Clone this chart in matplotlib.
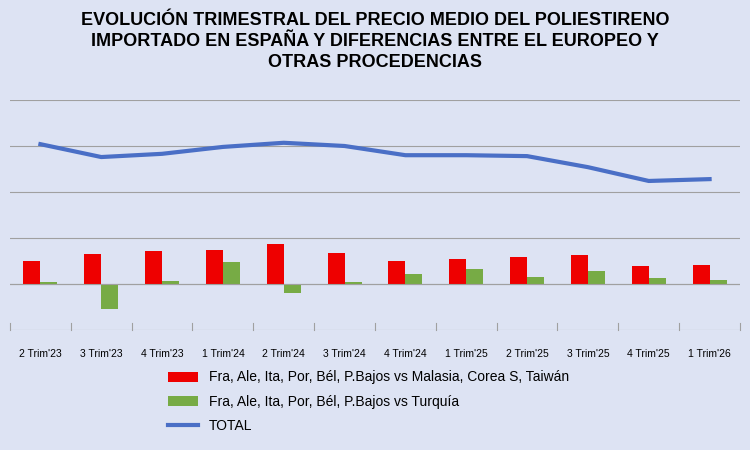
import matplotlib
matplotlib.use("Agg")
import matplotlib.pyplot as plt
import numpy as np

categories = ["2 Trim'23","3 Trim'23","4 Trim'23","1 Trim'24","2 Trim'24","3 Trim'24",
              "4 Trim'24","1 Trim'25","2 Trim'25","3 Trim'25","4 Trim'25","1 Trim'26"]
red_vals = [0.50,0.65,0.72,0.74,0.87,0.67,0.50,0.54,0.59,0.63,0.39,0.41]
green_vals = [0.04,-0.54,0.06,0.48,-0.20,0.04,0.22,0.33,0.15,0.28,0.13,0.09]
total_vals = [3.04,2.76,2.83,2.98,3.07,3.00,2.80,2.80,2.78,2.54,2.24,2.28]

bg = "#dde3f3"
plt.rcParams['font.family'] = ['Liberation Sans', 'DejaVu Sans']
fig = plt.figure(figsize=(7.5,4.5), dpi=100, facecolor=bg)
ax = fig.add_axes([10/750, 120/450, 730/750, 230/450], facecolor=bg)
x = np.arange(len(categories))
w = 0.28
b1 = ax.bar(x-w/2, red_vals, w, color="#ee0000", label="Fra, Ale, Ita, Por, Bél, P.Bajos vs Malasia, Corea S, Taiwán")
b2 = ax.bar(x+w/2, green_vals, w, color="#77ab45", label="Fra, Ale, Ita, Por, Bél, P.Bajos vs Turquía")
l1, = ax.plot(x, total_vals, color="#4a6fc6", lw=3, label="TOTAL")
ax.set_ylim(-1, 4)
ax.set_xlim(-0.5, len(categories)-0.5)
ax.set_yticks([-1,0,1,2,3,4])
ax.yaxis.grid(True, color="#a0a0a0", lw=0.8)
ax.set_axisbelow(True)
ax.tick_params(axis='y', left=False, labelleft=False)
ax.tick_params(axis='x', length=0, labelsize=7.5, pad=14)
ax.set_xticks(x)
ax.set_xticklabels(categories)
for s in ax.spines.values():
    s.set_visible(False)
ax.axhline(0, color="#a0a0a0", lw=0.8)
for xi in np.arange(-0.5, len(categories), 1):
    ax.plot([xi, xi], [-1, -0.85], color="#a0a0a0", lw=0.8, clip_on=False)
fig.text(0.5, 1-12/450, "EVOLUCIÓN TRIMESTRAL DEL PRECIO MEDIO DEL POLIESTIRENO\nIMPORTADO EN ESPAÑA Y DIFERENCIAS ENTRE EL EUROPEO Y\nOTRAS PROCEDENCIAS",
         ha="center", va="top", fontsize=13, fontweight="bold", linespacing=1.3)
fig.legend(handles=[b1, b2, l1], loc="upper left", bbox_to_anchor=(155/750, 1-358/450),
           frameon=False, fontsize=10, handlelength=2.2, labelspacing=0.75)
fig.savefig("out.png", dpi=100, facecolor=bg)
